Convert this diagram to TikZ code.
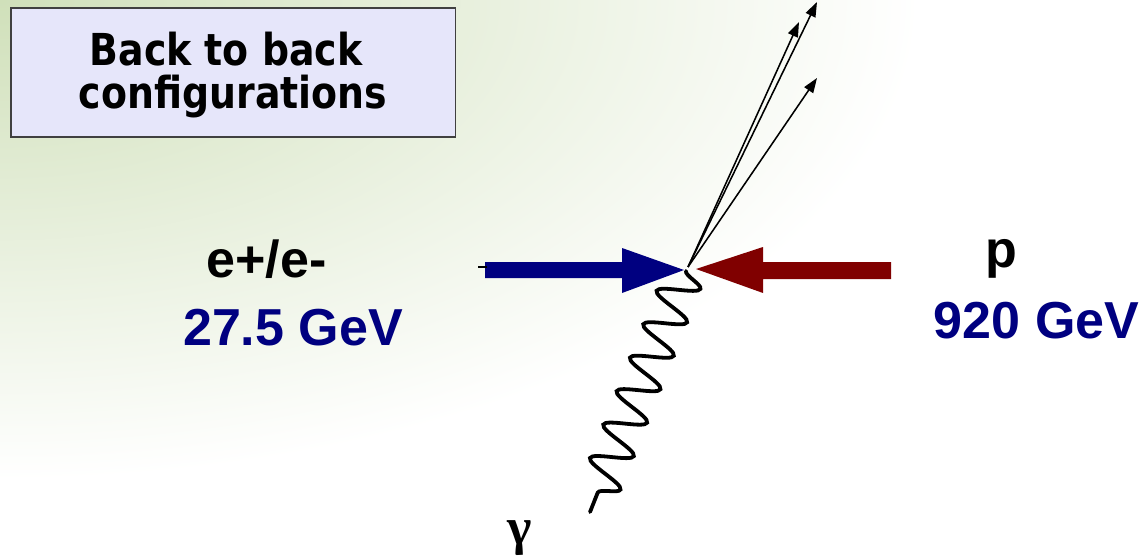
\documentclass[tikz,border=0pt]{standalone}
\usepackage{fontspec}
\setmainfont{Liberation Sans}
\newfontfamily\titlefont{DejaVu Sans}[FakeStretch=0.86]
\newfontfamily\greekfont{Liberation Serif}
\usetikzlibrary{arrows.meta,decorations.pathmorphing}
\definecolor{bggreen}{RGB}{208,224,186}
\definecolor{boxfill}{RGB}{230,230,250}
\definecolor{navyb}{RGB}{0,0,128}
\definecolor{maroonr}{RGB}{128,0,0}
\tikzset{
  titlebox/.style={draw=black!75, line width=0.8pt, fill=boxfill, minimum width=11.1cm, minimum height=3.225cm, inner sep=0pt},
  titletext/.style={anchor=base, inner sep=0pt, font=\titlefont\bfseries\fontsize{31.3}{36}\selectfont},
  lbl/.style={anchor=base, inner sep=0pt, font=\bfseries\fontsize{37}{44}\selectfont},
  track/.style={line width=1.1pt, -{Triangle[length=10.5pt,width=7.5pt]}},
  photon/.style={line width=2.7pt, line cap=round, decorate, decoration={snake, segment length=0.9cm, amplitude=0.5cm, post length=2mm}},
}
\begin{document}
\begin{tikzpicture}[x=0.025cm,y=-0.025cm]
\useasboundingbox (0,0) rectangle (1142,558);
\begin{scope}
\clip (0,0) rectangle (1142,558);
\fill[white] (0,0) rectangle (1142,558);
\shade[inner color=bggreen, outer color=white] (0,0) ellipse [x radius=23cm, y radius=12cm];
\end{scope}
% title box
\node[titlebox] (title) at (233,72.5) {};
\node[titletext] (t1) at (226,65) {Back to back};
\node[titletext] (t2) at (233,108) {configurations};
% beams
\fill[navyb] (485,262) -- (622,262) -- (622,248) -- (684,270) -- (622,293) -- (622,278) -- (485,278) -- cycle;
\fill[maroonr] (891,262) -- (763,262) -- (763,247) -- (696,269) -- (763,293) -- (763,279) -- (891,279) -- cycle;
\draw[line width=1pt] (478,267) -- (487,267);
% vertex and tracks
\coordinate (v) at (688,267);
\coordinate (o1) at (817,2);
\coordinate (o2) at (799,22);
\coordinate (o3) at (817,78);
\draw[track] (v) -- (o1);
\draw[track] (v) -- (o2);
\draw[track] (v) -- (o3);
% photon
\coordinate (pv) at (686,271);
\coordinate (g) at (590,512);
\draw[photon] (pv) -- (g);
% labels
\node[lbl] (e) at (266.5,277) {e+/e-};
\node[lbl, text=navyb] (eE) at (293,345) {27.5 GeV};
\node[lbl] (p) at (1001,267) {p};
\node[lbl, text=navyb] (pE) at (1036.5,338) {920 GeV};
\node[anchor=base, inner sep=0pt, font=\greekfont\bfseries\fontsize{37}{40}\selectfont] (gam) at (520,544) {γ};
\end{tikzpicture}
\end{document}
